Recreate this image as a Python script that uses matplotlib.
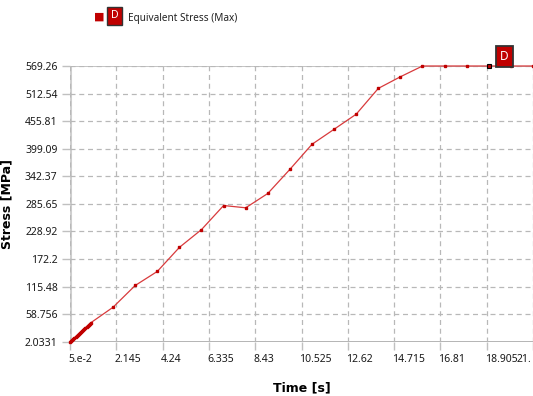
import matplotlib.pyplot as plt
from matplotlib.transforms import ScaledTranslation

# time steps [s] and max equivalent stress [MPa]
time_s = [0.05, 0.1, 0.15, 0.2, 0.25, 0.3, 0.35, 0.4, 0.45, 0.5,
          0.55, 0.6, 0.65, 0.7, 0.75, 0.8, 0.85, 0.9, 0.95, 1.0,
          2.0, 3.0, 4.0, 5.0, 6.0, 7.0, 8.0, 9.0, 10.0, 11.0,
          12.0, 13.0, 14.0, 15.0, 16.0, 17.0, 18.0, 19.0, 20.0, 21.0]
stress = [2.0331, 4.1, 6.2, 8.2, 10.3, 12.4, 14.4, 16.5, 18.6, 20.6,
          22.7, 24.8, 26.8, 28.9, 31.0, 33.0, 35.1, 37.2, 39.2, 41.3,
          73.0, 117.7, 146.6, 196.1, 232.7, 282.2, 277.5, 307.0, 356.6, 408.2,
          439.1, 470.1, 523.2, 547.1, 569.26, 569.26, 569.26, 569.26, 569.26, 569.26]

xticks = [0.05, 2.145, 4.24, 6.335, 8.43, 10.525, 12.62, 14.715, 16.81, 18.905, 21.0]
xtick_labels = ['5.e-2', '2.145', '4.24', '6.335', '8.43', '10.525', '12.62',
                '14.715', '16.81', '18.905', '21.']
yticks = [2.0331, 58.756, 115.48, 172.2, 228.92, 285.65, 342.37, 399.09,
          455.81, 512.54, 569.26]
ytick_labels = ['2.0331', '58.756', '115.48', '172.2', '228.92', '285.65',
                '342.37', '399.09', '455.81', '512.54', '569.26']

plt.rcParams['font.family'] = ['Noto Sans', 'DejaVu Sans']

fig = plt.figure(figsize=(5.33, 3.96), dpi=100)
ax = fig.add_axes([70/533, 54.3/396, 463/533, 275.7/396])

ax.plot(time_s, stress, color='#d83a3c', lw=0.9, marker='s', ms=2.1,
        mfc='#c00000', mec='#c00000', clip_on=False, zorder=3)

ax.set_xlim(0.05, 21.0)
ax.set_ylim(2.0331, 569.26)
ax.set_xticks(xticks)
ax.set_xticklabels(xtick_labels, fontsize=7.5, color='#1a1a1a', ha='left')
ax.set_yticks(yticks)
ax.set_yticklabels(ytick_labels, fontsize=7.5, color='#1a1a1a')
ax.tick_params(axis='both', length=6, width=1, color='#c0c0c0', pad=3)

# shift x labels so they start at the tick, the last one pulled back inside
dpi = fig.dpi
for i, lab in enumerate(ax.get_xticklabels()):
    dx = -2 if i < len(xtick_labels) - 1 else -16
    lab.set_transform(lab.get_transform() + ScaledTranslation(dx / dpi, 0, fig.dpi_scale_trans))

ax.grid(True, color='#b8b8b8', ls=(0, (4, 3)), lw=0.9)
for side in ['left', 'bottom', 'top', 'right']:
    ax.spines[side].set_visible(False)
ax.axvline(0.05, color='#cfcfcf', lw=2.2, zorder=1)
ax.axhline(2.0331, color='#a8a8a8', lw=1.2, zorder=1)
ax.axhline(569.26, color='#c4c4c4', lw=1.4, zorder=1)

ax.set_xlabel('Time [s]', fontsize=9, fontweight='bold', family='DejaVu Sans',
              labelpad=12)
ax.set_ylabel('Stress [MPa]', fontsize=9, fontweight='bold', family='DejaVu Sans',
              labelpad=8)

# probe marker with its tag
ax.plot([19.0], [569.26], marker='s', ms=3.4, mfc='#c00000', mec='black',
        mew=0.8, zorder=4, clip_on=False)
ax.annotate('D', xy=(19.0, 569.26), xytext=(11, 7), textcoords='offset points',
            ha='center', va='center', color='white', fontsize=8.5,
            bbox=dict(boxstyle='square,pad=0.35', fc='#c00000', ec='#333333', lw=1.3),
            annotation_clip=False, zorder=5)

# legend row
fig.text(99/533, 1 - 16.5/396, '\u25a0', color='#c00000', fontsize=8,
         ha='center', va='center', family='DejaVu Sans')
fig.text(114.5/533, 1 - 16/396, 'D', color='white', fontsize=7.5, ha='center', va='center',
         bbox=dict(boxstyle='square,pad=0.35', fc='#c00000', ec='#333333', lw=1.0))
fig.text(128/533, 1 - 18/396, 'Equivalent Stress (Max)', fontsize=7.2,
         color='#222222', ha='left', va='center')

fig.savefig('out.png', dpi=100)
